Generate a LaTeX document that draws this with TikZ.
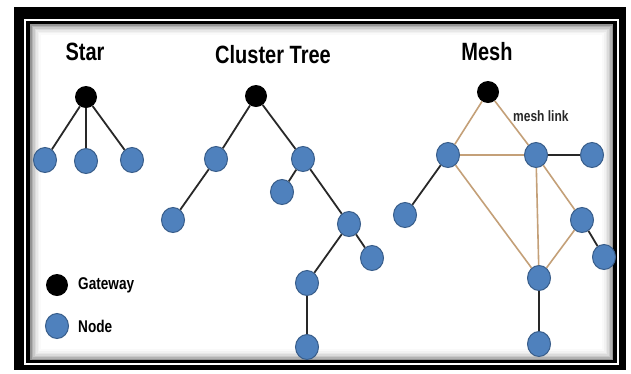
\documentclass[tikz,border=0pt]{standalone}
\usepackage{fontspec}
\newfontfamily\narrow{Liberation Sans}[FakeStretch=0.8]
\usetikzlibrary{shapes.geometric}
\definecolor{ndf}{RGB}{79,129,189}
\definecolor{ndb}{RGB}{56,93,138}
\definecolor{etan}{RGB}{196,160,120}
\definecolor{edk}{RGB}{40,40,40}
\begin{document}
\begin{tikzpicture}[x=1pt,y=-1pt,
  nd/.style={ellipse, draw=ndb, fill=ndf, line width=1pt, minimum width=23pt, minimum height=25pt, inner sep=0pt},
  gw/.style={circle, fill=black, minimum size=22pt, inner sep=0pt},
  bl/.style={draw=edk, line width=1.8pt},
  tn/.style={draw=etan, line width=1.6pt},
  ttl/.style={font=\narrow\bfseries\fontsize{25}{25}\selectfont, inner sep=0pt},
  lbl/.style={font=\narrow\bfseries\fontsize{17}{17}\selectfont, anchor=base west, inner sep=0pt},
  ml/.style={font=\narrow\bfseries\fontsize{15}{15}\selectfont, anchor=base west, inner sep=0pt, text=edk}]
\useasboundingbox (0,0) rectangle (631,373);
\fill[white] (0,0) rectangle (631,373);
% frame
\fill[black] (14,7) rectangle (626,370);
\fill[white] (24,19) rectangle (619,365);
\fill[black] (26,21) rectangle (617,363);
\fill[white] (30,24) rectangle (613,360);
\foreach \i/\c in {0/42,1.5/30,3/21,4.5/14,6/9,7.5/5,9/2}
  \draw[black!\c, line width=1.6pt] (30.8+\i,24.8+\i) rectangle (612.2-\i,359.2-\i);
% titles
\node[ttl] (tstar) at (85,52) {Star};
\node[ttl] (tclus) at (273,55) {Cluster Tree};
\node[ttl] (tmesh) at (487,52) {Mesh};
% star
\node[gw] (g1) at (86,97) {};
\node[nd] (s1) at (45,160) {};
\node[nd] (s2) at (86,161) {};
\node[nd] (s3) at (132,160) {};
\draw[bl] (g1) -- (s1);
\draw[bl] (g1) -- (s2);
\draw[bl] (g1) -- (s3);
% cluster tree
\node[gw] (g2) at (256,96) {};
\node[nd] (c1) at (216,159) {};
\node[nd] (c2) at (303,159) {};
\node[nd] (c3) at (173,220) {};
\node[nd] (c4) at (282,192) {};
\node[nd] (c5) at (349,224) {};
\node[nd] (c6) at (372,258) {};
\node[nd] (c7) at (307,283) {};
\node[nd] (c8) at (307,347) {};
\draw[bl] (g2) -- (c1);
\draw[bl] (g2) -- (c2);
\draw[bl] (c1) -- (c3);
\draw[bl] (c2) -- (c4);
\draw[bl] (c2) -- (c5);
\draw[bl] (c5) -- (c6);
\draw[bl] (c5) -- (c7);
\draw[bl] (c7) -- (c8);
% mesh
\node[gw] (g3) at (488,92) {};
\node[nd] (m1) at (448,155) {};
\node[nd] (m2) at (536,155) {};
\node[nd] (m3) at (592,155) {};
\node[nd] (m4) at (405,215) {};
\node[nd] (m5) at (582,220) {};
\node[nd] (m6) at (604,257) {};
\node[nd] (m7) at (539,278) {};
\node[nd] (m8) at (539,344) {};
\draw[tn] (g3) -- (m1);
\draw[tn] (g3) -- (m2);
\draw[tn] (m1) -- (m2);
\draw[tn] (m1) -- (m7);
\draw[tn] (m2) -- (m7);
\draw[tn] (m2) -- (m5);
\draw[tn] (m5) -- (m7);
\draw[bl] (m2) -- (m3);
\draw[bl] (m1) -- (m4);
\draw[bl] (m5) -- (m6);
\draw[bl] (m7) -- (m8);
\node[ml] (mltxt) at (513,121) {mesh link};
% legend
\node[gw] (lg) at (57,285) {};
\node[nd] (ln) at (57,326) {};
\node[lbl] (lgt) at (78,289) {Gateway};
\node[lbl] (lnt) at (78,332) {Node};
\end{tikzpicture}
\end{document}
